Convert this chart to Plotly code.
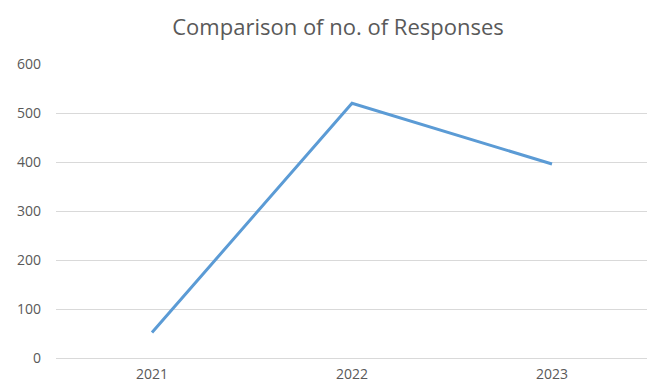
import plotly.graph_objects as go

# Survey response counts by year
years = ["2021", "2022", "2023"]
responses = [52, 520, 396]
y_ticks = [0, 100, 200, 300, 400, 500, 600]

W, H = 647, 384
text_grey = "#595959"
grid_grey = "#d9d9d9"

fig = go.Figure(
    go.Scatter(
        x=years,
        y=responses,
        mode="lines",
        line=dict(color="#5B9BD5", width=3),
        hoverinfo="x+y",
    )
)

fig.update_layout(
    width=W,
    height=H,
    margin=dict(l=56, r=0, t=64, b=26),
    paper_bgcolor="white",
    plot_bgcolor="white",
    showlegend=False,
    title=dict(
        text="Comparison of no. of Responses",
        x=338 / W,
        xref="container",
        xanchor="center",
        y=1 - 27 / H,
        yref="container",
        yanchor="middle",
        font=dict(family="Open Sans", size=22, color=text_grey),
    ),
    font=dict(family="Open Sans", size=14, color=text_grey),
)

fig.update_xaxes(
    type="category",
    range=[-0.48, 2.475],
    automargin=False,
    showgrid=False,
    showline=False,
    zeroline=False,
    ticks="",
    ticklabelstandoff=6,
    tickfont=dict(size=14, color=text_grey),
)
fig.update_yaxes(
    range=[0, 600],
    tickvals=y_ticks,
    automargin=False,
    showgrid=True,
    gridcolor=grid_grey,
    gridwidth=1,
    zeroline=True,
    zerolinecolor=grid_grey,
    zerolinewidth=1,
    showline=False,
    ticks="",
    ticklabelstandoff=14,
    tickfont=dict(size=14, color=text_grey),
)

fig.write_html("out.html")
